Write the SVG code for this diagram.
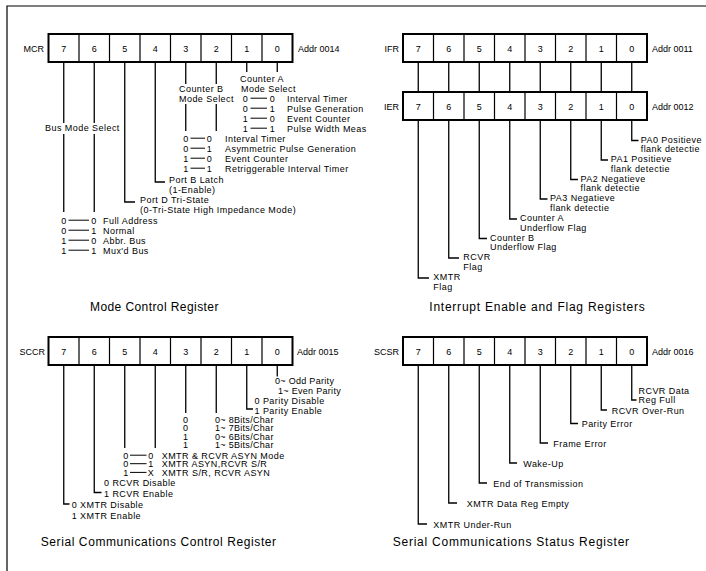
<svg xmlns="http://www.w3.org/2000/svg" width="706" height="571" viewBox="0 0 706 571">
<style>
text{font-family:"Liberation Sans",Arial,sans-serif;fill:#000}
.t{font-size:9px;letter-spacing:0.45px}
.s{font-size:9px;letter-spacing:0.3px}
.n{font-size:9px;text-anchor:middle}
.lbl{font-size:9px}
.ttl{font-size:12px;letter-spacing:0.6px}
.m{text-anchor:middle}
.e{text-anchor:end}
.c{fill:none;stroke:#000;stroke-width:1.3}
.d{stroke:#000;stroke-width:1}
.box{fill:#fff;stroke:#000;stroke-width:2}
.div{stroke:#000;stroke-width:1.2;fill:none}
.frame{fill:none;stroke:#000;stroke-width:1.2}
</style>
<defs>
<g id="reg">
<rect class="box" x="0" y="0" width="244" height="28"/>
<path class="div" d="M30.5,0V28M61,0V28M91.5,0V28M122,0V28M152.5,0V28M183,0V28M213.5,0V28"/>
</g>
</defs>
<rect width="706" height="571" fill="#fff"/>
<path class="frame" d="M7,571V6H706"/>

<g id="connectors">
<path class="c" d="M63.75,62V123M63.75,134V212M94.25,62V123M94.25,134V212M124.75,62V202H135M155.25,62V182H165M185.75,62V84M185.75,104V131M216.25,62V84M216.25,104V131M246.75,62V72M277.25,62V72"/>
<path class="c" d="M418.25,62V92M448.75,62V92M479.25,62V92M509.75,62V92M540.25,62V92M570.75,62V92M601.25,62V92M631.75,62V92"/>
<path class="c" d="M631.75,120V140.5H638.5M601.25,120V160H608M570.75,120V179.5H578M540.25,120V199H547.5M509.75,120V219H517M479.25,120V238.5H487M448.75,120V258H459M418.25,120V278H429"/>
<path class="c" d="M277.25,365V376.5M246.75,365V409H253M216.25,365V413M185.75,365V413M155.25,365V448M124.75,365V448M94.25,365V492.5H101.5M63.75,365V504H69.5"/>
<path class="c" d="M631.75,365V400H636.5M601.25,365V410H607M570.75,365V423.5H578M540.25,365V443H548M509.75,365V463H517M479.25,365V483H487M448.75,365V503H457M418.25,365V524H427"/>
</g>

<g id="mcr">
<use href="#reg" x="48.5" y="34"/>
<text class="lbl e" x="44" y="51.5">MCR</text>
<text class="n" x="63.75" y="51.5">7</text><text class="n" x="94.25" y="51.5">6</text><text class="n" x="124.75" y="51.5">5</text><text class="n" x="155.25" y="51.5">4</text><text class="n" x="185.75" y="51.5">3</text><text class="n" x="216.25" y="51.5">2</text><text class="n" x="246.75" y="51.5">1</text><text class="n" x="277.25" y="51.5">0</text>
<text class="lbl" x="298" y="51.5">Addr 0014</text>
</g>

<g id="mcr-counter-a">
<text class="t" x="240" y="81.5">Counter A</text>
<text class="t" x="241" y="91.5">Mode Select</text>
<text class="t m" x="245.5" y="101.5">0</text><line class="d" x1="250.5" y1="98.2" x2="267" y2="98.2"/><text class="t m" x="272.5" y="101.5">0</text><text class="t" x="287" y="101.5">Interval Timer</text>
<text class="t m" x="245.5" y="111.5">0</text><line class="d" x1="250.5" y1="108.2" x2="267" y2="108.2"/><text class="t m" x="272.5" y="111.5">1</text><text class="t" x="287" y="111.5">Pulse Generation</text>
<text class="t m" x="245.5" y="121.5">1</text><line class="d" x1="250.5" y1="118.2" x2="267" y2="118.2"/><text class="t m" x="272.5" y="121.5">0</text><text class="t" x="287" y="121.5">Event Counter</text>
<text class="t m" x="245.5" y="131.5">1</text><line class="d" x1="250.5" y1="128.2" x2="267" y2="128.2"/><text class="t m" x="272.5" y="131.5">1</text><text class="t" x="287" y="131.5">Pulse Width Meas</text>
</g>

<g id="mcr-counter-b">
<text class="t" x="179" y="91.5">Counter B</text>
<text class="t" x="179" y="101.5">Mode Select</text>
<text class="t m" x="186" y="141.5">0</text><line class="d" x1="190.5" y1="138.2" x2="205" y2="138.2"/><text class="t m" x="209.5" y="141.5">0</text><text class="t" x="225" y="141.5">Interval Timer</text>
<text class="t m" x="186" y="151.5">0</text><line class="d" x1="190.5" y1="148.2" x2="205" y2="148.2"/><text class="t m" x="209.5" y="151.5">1</text><text class="t" x="225" y="151.5">Asymmetric Pulse Generation</text>
<text class="t m" x="186" y="161.5">1</text><line class="d" x1="190.5" y1="158.2" x2="205" y2="158.2"/><text class="t m" x="209.5" y="161.5">0</text><text class="t" x="225" y="161.5">Event Counter</text>
<text class="t m" x="186" y="171.5">1</text><line class="d" x1="190.5" y1="168.2" x2="205" y2="168.2"/><text class="t m" x="209.5" y="171.5">1</text><text class="t" x="225" y="171.5">Retriggerable Interval Timer</text>
</g>

<g id="mcr-port-b">
<text class="t" x="169" y="182.5">Port B Latch</text>
<text class="t" x="169" y="192.5">(1-Enable)</text>
</g>

<g id="mcr-port-d">
<text class="t" x="140" y="202.5">Port D Tri-State</text>
<text class="t" x="140" y="212.5">(0-Tri-State High Impedance Mode)</text>
</g>

<g id="mcr-bus">
<text class="t" x="45" y="131">Bus Mode Select</text>
<text class="t m" x="64" y="223.5">0</text><line class="d" x1="68.5" y1="220.2" x2="89" y2="220.2"/><text class="t m" x="94" y="223.5">0</text><text class="t" x="103" y="223.5">Full Address</text>
<text class="t m" x="64" y="233.5">0</text><line class="d" x1="68.5" y1="230.2" x2="89" y2="230.2"/><text class="t m" x="94" y="233.5">1</text><text class="t" x="103" y="233.5">Normal</text>
<text class="t m" x="64" y="243.5">1</text><line class="d" x1="68.5" y1="240.2" x2="89" y2="240.2"/><text class="t m" x="94" y="243.5">0</text><text class="t" x="103" y="243.5">Abbr. Bus</text>
<text class="t m" x="64" y="253.5">1</text><line class="d" x1="68.5" y1="250.2" x2="89" y2="250.2"/><text class="t m" x="94" y="253.5">1</text><text class="t" x="103" y="253.5">Mux'd Bus</text>
</g>

<g id="title-mcr"><text class="ttl" x="90" y="311" textLength="129" lengthAdjust="spacing">Mode Control Register</text></g>

<g id="ifr">
<use href="#reg" x="403" y="34"/>
<text class="lbl e" x="399" y="51.5">IFR</text>
<text class="n" x="418.25" y="51.5">7</text><text class="n" x="448.75" y="51.5">6</text><text class="n" x="479.25" y="51.5">5</text><text class="n" x="509.75" y="51.5">4</text><text class="n" x="540.25" y="51.5">3</text><text class="n" x="570.75" y="51.5">2</text><text class="n" x="601.25" y="51.5">1</text><text class="n" x="631.75" y="51.5">0</text>
<text class="lbl" x="652" y="51.5">Addr 0011</text>
</g>

<g id="ier">
<use href="#reg" x="403" y="92"/>
<text class="lbl e" x="399" y="109.5">IER</text>
<text class="n" x="418.25" y="109.5">7</text><text class="n" x="448.75" y="109.5">6</text><text class="n" x="479.25" y="109.5">5</text><text class="n" x="509.75" y="109.5">4</text><text class="n" x="540.25" y="109.5">3</text><text class="n" x="570.75" y="109.5">2</text><text class="n" x="601.25" y="109.5">1</text><text class="n" x="631.75" y="109.5">0</text>
<text class="lbl" x="652" y="109.5">Addr 0012</text>
</g>

<g id="ier-notes">
<text class="t" x="640.7" y="142.5">PA0 Positieve</text><text class="t" x="640.7" y="152">flank detectie</text>
<text class="t" x="610.7" y="162">PA1 Positieve</text><text class="t" x="610.7" y="171.5">flank detectie</text>
<text class="t" x="580.5" y="181.5">PA2 Negatieve</text><text class="t" x="580.5" y="191">flank detectie</text>
<text class="t" x="550" y="201">PA3 Negatieve</text><text class="t" x="550" y="210.5">flank detectie</text>
<text class="t" x="520" y="221">Counter A</text><text class="t" x="520" y="230.5">Underflow Flag</text>
<text class="t" x="490" y="240.5">Counter B</text><text class="t" x="490" y="250">Underflow Flag</text>
<text class="t" x="463.3" y="260">RCVR</text><text class="t" x="463.3" y="269.5">Flag</text>
<text class="t" x="433.3" y="280">XMTR</text><text class="t" x="433.3" y="289.5">Flag</text>
</g>

<g id="title-ier"><text class="ttl" x="429.3" y="311" textLength="216" lengthAdjust="spacing">Interrupt Enable and Flag Registers</text></g>

<g id="sccr">
<use href="#reg" x="48.5" y="337"/>
<text class="lbl e" x="45" y="354.5">SCCR</text>
<text class="n" x="63.75" y="354.5">7</text><text class="n" x="94.25" y="354.5">6</text><text class="n" x="124.75" y="354.5">5</text><text class="n" x="155.25" y="354.5">4</text><text class="n" x="185.75" y="354.5">3</text><text class="n" x="216.25" y="354.5">2</text><text class="n" x="246.75" y="354.5">1</text><text class="n" x="277.25" y="354.5">0</text>
<text class="lbl" x="297" y="354.5">Addr 0015</text>
</g>

<g id="sccr-parity">
<text class="s" x="275" y="383.5">0~ Odd Parity</text>
<text class="s" x="278" y="393.5">1~ Even Parity</text>
<text class="t" x="254.5" y="403.5">0 Parity Disable</text>
<text class="t" x="254.5" y="413.5">1 Parity Enable</text>
</g>

<g id="sccr-bits">
<text class="s m" x="185.75" y="422.8">0</text><text class="s" x="215" y="422.8">0~ 8Bits/Char</text>
<text class="s m" x="185.75" y="431.3">0</text><text class="s" x="215" y="431.3">1~ 7Bits/Char</text>
<text class="s m" x="185.75" y="439.8">1</text><text class="s" x="215" y="439.8">0~ 6Bits/Char</text>
<text class="s m" x="185.75" y="448.3">1</text><text class="s" x="215" y="448.3">1~ 5Bits/Char</text>
</g>

<g id="sccr-mode">
<text class="t m" x="126" y="458.5">0</text><line class="d" x1="130" y1="455.2" x2="146.5" y2="455.2"/><text class="t m" x="151" y="458.5">0</text><text class="t" x="161.7" y="458.5">XMTR &amp; RCVR ASYN Mode</text>
<text class="t m" x="126" y="467">0</text><line class="d" x1="130" y1="463.7" x2="146.5" y2="463.7"/><text class="t m" x="151" y="467">1</text><text class="t" x="161.7" y="467">XMTR ASYN,RCVR S/R</text>
<text class="t m" x="126" y="475.7">1</text><line class="d" x1="130" y1="472.4" x2="146.5" y2="472.4"/><text class="t m" x="151" y="475.7">X</text><text class="t" x="161.7" y="475.7">XMTR S/R, RCVR ASYN</text>
</g>

<g id="sccr-rcvr">
<text class="t" x="104" y="486">0 RCVR Disable</text>
<text class="t" x="104" y="496.5">1 RCVR Enable</text>
</g>

<g id="sccr-xmtr">
<text class="t" x="71.7" y="507.5">0 XMTR Disable</text>
<text class="t" x="71.7" y="518.5">1 XMTR Enable</text>
</g>

<g id="title-sccr"><text class="ttl" x="40.7" y="546" textLength="236" lengthAdjust="spacing">Serial Communications Control Register</text></g>

<g id="scsr">
<use href="#reg" x="403" y="337"/>
<text class="lbl e" x="399" y="354.5">SCSR</text>
<text class="n" x="418.25" y="354.5">7</text><text class="n" x="448.75" y="354.5">6</text><text class="n" x="479.25" y="354.5">5</text><text class="n" x="509.75" y="354.5">4</text><text class="n" x="540.25" y="354.5">3</text><text class="n" x="570.75" y="354.5">2</text><text class="n" x="601.25" y="354.5">1</text><text class="n" x="631.75" y="354.5">0</text>
<text class="lbl" x="652" y="354.5">Addr 0016</text>
</g>

<g id="scsr-notes">
<text class="t" x="638.5" y="393.5">RCVR Data</text><text class="t" x="638.5" y="403">Reg Full</text>
<text class="t" x="611.7" y="413.5">RCVR Over-Run</text>
<text class="t" x="581.7" y="427">Parity Error</text>
<text class="t" x="553.3" y="446.5">Frame Error</text>
<text class="t" x="523.3" y="466.5">Wake-Up</text>
<text class="t" x="493.3" y="486.5">End of Transmission</text>
<text class="t" x="466.7" y="506.5">XMTR Data Reg Empty</text>
<text class="t" x="433.3" y="527.5">XMTR Under-Run</text>
</g>

<g id="title-scsr"><text class="ttl" x="392.7" y="546" textLength="237" lengthAdjust="spacing">Serial Communications Status Register</text></g>
</svg>
